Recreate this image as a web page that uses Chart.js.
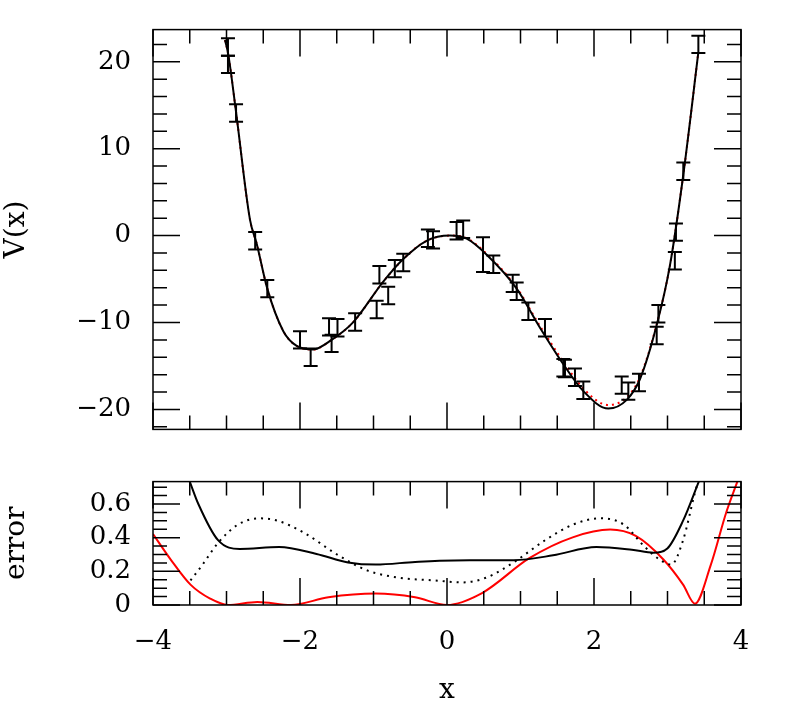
<!DOCTYPE html>
<html>
<head>
<meta charset="utf-8">
<script src="https://cdn.jsdelivr.net/npm/chart.js@4.4.1/dist/chart.umd.min.js"></script>
<style>
  body { margin: 0; background: #fff; }
  #wrap { position: relative; width: 789px; height: 718px; }
  canvas { position: absolute; left: 0; }
</style>
</head>
<body>
<div id="wrap">
  <canvas id="top" width="789" height="459" style="top:0px;width:789px;height:459px"></canvas>
  <canvas id="bot" width="789" height="266" style="top:452px;width:789px;height:266px"></canvas>
</div>
<script>
// potential curve (solid black) and fit (red dotted)
const vX = [-3.02, -2.975, -2.87, -2.68, -2.59, -2.445, -2.227, -2.045, -1.82, -1.57, -1.275, -0.867, -0.595, -0.278, 0.04, 0.268, 0.54, 0.948, 1.265, 1.583, 1.855, 2.195, 2.445, 2.626, 2.853, 3.034, 3.215, 3.42];
const vY = [22.5, 20.8, 14.2, 1.8, -0.9, -6.1, -11.0, -12.7, -13.1, -12.0, -9.95, -5.3, -2.7, -0.6, 0, -0.35, -2.2, -6.1, -10.6, -14.8, -17.9, -19.9, -18.9, -16.5, -10.3, -3.4, 7.0, 21.1];
const fitY = [22.5, 20.8, 14.2, 1.8, -0.9, -6.1, -11.0, -12.7, -13.1, -12.0, -9.95, -5.3, -2.7, -0.6, 0, -0.3, -2.1, -6.0, -10.4, -14.5, -17.6, -19.5, -18.6, -16.3, -10.2, -3.4, 7.0, 21.1];

// data points with error bars
const errX = [-2.98, -2.98, -2.87, -2.61, -2.445, -2.0, -1.855, -1.605, -1.57, -1.49, -1.25, -0.957, -0.92, -0.80, -0.71, -0.595, -0.26, -0.19, 0.13, 0.22, 0.49, 0.63, 0.894, 0.948, 1.107, 1.333, 1.583, 1.605, 1.741, 1.855, 2.377, 2.467, 2.612, 2.853, 2.876, 3.10, 3.115, 3.215, 3.42];
const errY = [21.7, 19.7, 14.1, -0.6, -6.1, -12.0, -14.0, -10.5, -12.4, -10.6, -9.95, -8.5, -4.5, -6.9, -3.8, -3.1, -0.3, -0.5, 0.55, 0.73, -2.2, -3.3, -5.5, -6.4, -8.7, -10.6, -15.2, -15.3, -16.3, -17.8, -17.2, -17.9, -16.9, -11.5, -9.0, -2.9, 0.4, 7.4, 22.0];
const errE = [1.0, 1.0, 1.0, 1.0, 1.0, 1.0, 1.0, 1.0, 1.0, 1.0, 1.0, 1.0, 1.0, 1.0, 1.0, 1.0, 1.0, 1.0, 1.0, 1.0, 2.0, 1.0, 1.0, 1.0, 1.0, 1.0, 1.0, 1.0, 1.0, 1.0, 1.0, 1.0, 1.0, 1.0, 1.0, 1.0, 1.0, 1.0, 1.0];

// error panel
const solidX = [-3.50, -3.383, -3.115, -2.82, -2.284, -1.775, -1.346, -0.97, -0.434, 0.10, 0.906, 1.443, 2.032, 2.515, 2.81, 2.998, 3.212, 3.426];
const solidY = [0.733, 0.600, 0.385, 0.333, 0.344, 0.303, 0.253, 0.240, 0.256, 0.265, 0.266, 0.295, 0.344, 0.328, 0.311, 0.336, 0.501, 0.733];
const dotX = [-3.49, -3.33, -3.115, -2.847, -2.552, -2.31, -1.936, -1.507, -1.078, -0.649, -0.166, 0.209, 0.531, 0.906, 1.335, 1.71, 2.086, 2.408, 2.676, 2.89, 3.051, 3.212, 3.373, 3.416];
const dotY = [0.146, 0.237, 0.369, 0.477, 0.515, 0.501, 0.427, 0.303, 0.204, 0.162, 0.146, 0.134, 0.162, 0.253, 0.385, 0.477, 0.515, 0.477, 0.352, 0.270, 0.240, 0.385, 0.667, 0.733];
const redX = [-4, -3.759, -3.49, -3.223, -2.981, -2.579, -2.123, -1.614, -0.97, -0.434, 0, 0.477, 1.12, 1.71, 2.22, 2.568, 2.944, 3.212, 3.373, 3.588, 3.8, 3.95];
const redY = [0.422, 0.270, 0.121, 0.038, 0, 0.018, 0, 0.046, 0.068, 0.046, 0, 0.071, 0.278, 0.402, 0.448, 0.41, 0.27, 0.121, 0.008, 0.237, 0.551, 0.733];

const xTicks = [-4, -2, 0, 2, 4];
const font = 'DejaVu Serif';
const minus = v => String(v).replace('-', '\u2212');
const pts = (xs, ys) => xs.map((x, i) => ({ x: x, y: ys[i] }));

// frame + inward ticks on all four sides, and error bars
const framePlugin = {
  id: 'frame',
  afterDatasetsDraw(chart, args, o) {
    const ctx = chart.ctx, a = chart.chartArea;
    const xs = chart.scales.x, ys = chart.scales.y;
    ctx.save();
    ctx.strokeStyle = '#000';
    if (o.err) {
      ctx.lineWidth = 2;
      errX.forEach((x, i) => {
        const px = xs.getPixelForValue(x);
        const p1 = ys.getPixelForValue(errY[i] - errE[i]);
        const p2 = ys.getPixelForValue(errY[i] + errE[i]);
        ctx.beginPath();
        ctx.moveTo(px, p1); ctx.lineTo(px, p2);
        ctx.moveTo(px - 7, p1); ctx.lineTo(px + 7, p1);
        ctx.moveTo(px - 7, p2); ctx.lineTo(px + 7, p2);
        ctx.stroke();
      });
    }
    ctx.lineWidth = 1.5;
    ctx.strokeRect(a.left, a.top, a.right - a.left, a.bottom - a.top);
    ctx.beginPath();
    for (let v = xs.min; v <= xs.max + 1e-9; v += o.xMinor) {
      const major = Math.abs(v / o.xMajor - Math.round(v / o.xMajor)) < 1e-6;
      const len = major ? 27 : 14;
      const px = xs.getPixelForValue(v);
      ctx.moveTo(px, a.bottom); ctx.lineTo(px, a.bottom - len);
      ctx.moveTo(px, a.top); ctx.lineTo(px, a.top + len);
    }
    const start = Math.ceil(ys.min / o.yMinor - 1e-6) * o.yMinor;
    for (let v = start; v <= ys.max + 1e-9; v += o.yMinor) {
      const major = Math.abs(v / o.yMajor - Math.round(v / o.yMajor)) < 1e-6;
      const len = major ? 27 : 14;
      const py = ys.getPixelForValue(v);
      ctx.moveTo(a.left, py); ctx.lineTo(a.left + len, py);
      ctx.moveTo(a.right, py); ctx.lineTo(a.right - len, py);
    }
    ctx.stroke();
    ctx.restore();
  }
};

const line = (data, color, dash, width) => ({
  data: data, borderColor: color, borderWidth: width, borderDash: dash,
  showLine: true, pointRadius: 0, cubicInterpolationMode: 'monotone', fill: false
});

new Chart(document.getElementById('top'), {
  type: 'scatter',
  data: { datasets: [
    line(pts(vX, vY), '#000', [], 2),
    line(pts(vX, fitY), '#ff0000', [2, 4], 2)
  ] },
  options: {
    responsive: false, animation: false, devicePixelRatio: 1,
    layout: { padding: { top: 14, right: 48, bottom: 2, left: 0 } },
    plugins: { legend: { display: false }, tooltip: { enabled: false },
      frame: { xMinor: 0.5, xMajor: 2, yMinor: 2, yMajor: 10, err: true } },
    scales: {
      x: { min: -4, max: 4, display: false },
      y: { min: -22.3, max: 23.7,
        afterFit: s => { s.width = 153; },
        afterBuildTicks: s => { s.ticks = [-20, -10, 0, 10, 20].map(v => ({ value: v })); },
        grid: { display: false }, border: { display: false },
        ticks: { color: '#000', font: { family: font, size: 26 }, padding: 14, callback: minus },
        title: { display: true, text: 'V(x)', color: '#000', font: { family: font, size: 28 }, padding: 0 } }
    }
  },
  plugins: [framePlugin]
});

new Chart(document.getElementById('bot'), {
  type: 'scatter',
  data: { datasets: [
    line(pts(solidX, solidY), '#000', [], 2),
    line(pts(dotX, dotY), '#000', [2, 5], 2),
    line(pts(redX, redY), '#ff0000', [], 2)
  ] },
  options: {
    responsive: false, animation: false, devicePixelRatio: 1,
    layout: { padding: { top: 5, right: 48, bottom: 0, left: 0 } },
    plugins: { legend: { display: false }, tooltip: { enabled: false },
      frame: { xMinor: 0.5, xMajor: 2, yMinor: 0.05, yMajor: 0.2, err: false } },
    scales: {
      x: { min: -4, max: 4,
        afterFit: s => { s.height = 113; },
        afterBuildTicks: s => { s.ticks = xTicks.map(v => ({ value: v })); },
        grid: { display: false }, border: { display: false },
        ticks: { color: '#000', font: { family: font, size: 26 }, padding: 14, maxRotation: 0, callback: minus },
        title: { display: true, text: 'x', color: '#000', font: { family: font, size: 28 }, padding: { top: 4, bottom: 10 } } },
      y: { min: 0, max: 0.733,
        afterFit: s => { s.width = 153; },
        afterBuildTicks: s => { s.ticks = [0, 0.2, 0.4, 0.6].map(v => ({ value: v })); },
        grid: { display: false }, border: { display: false },
        ticks: { color: '#000', font: { family: font, size: 26 }, padding: 14, callback: v => (v === 0 ? '0' : v.toFixed(1)) },
        title: { display: true, text: 'error', color: '#000', font: { family: font, size: 28 }, padding: 0 } }
    }
  },
  plugins: [framePlugin]
});
</script>
</body>
</html>
